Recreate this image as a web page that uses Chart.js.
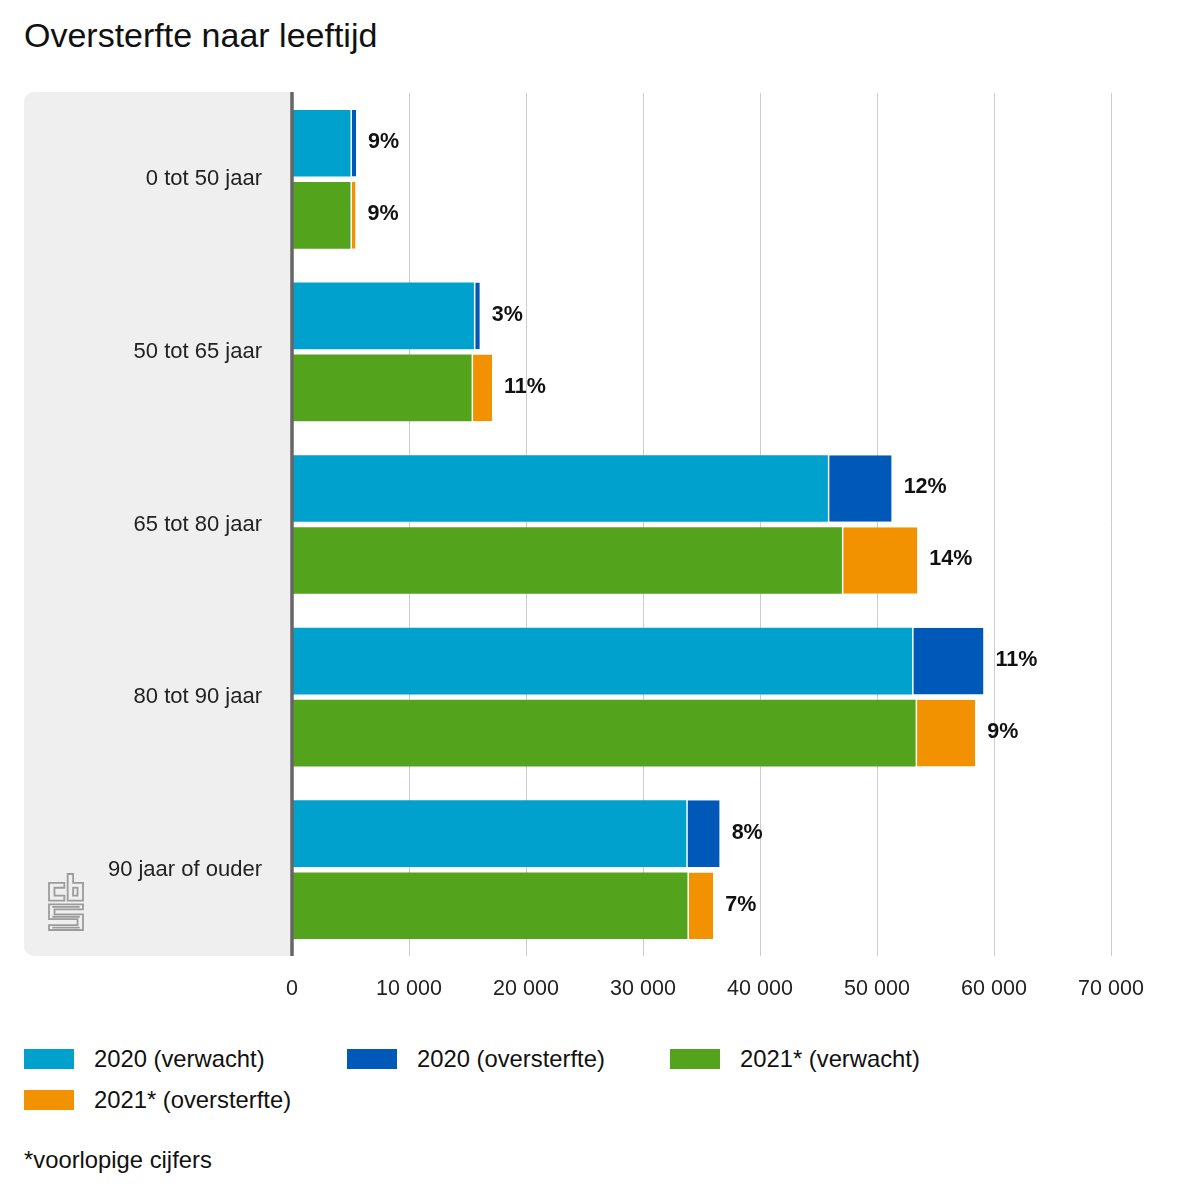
<!DOCTYPE html>
<html>
<head>
<meta charset="utf-8">
<script src="https://cdn.jsdelivr.net/npm/chart.js@4.4.1/dist/chart.umd.min.js"></script>
<style>
  html, body { margin: 0; padding: 0; background: #fff; }
  body { width: 1200px; height: 1200px; position: relative; font-family: "Liberation Sans", Arial, sans-serif; color: #111; }
  #title { position: absolute; left: 24px; top: 14px; font-size: 34px; line-height: 42px; color: #111; white-space: nowrap; }
  #wrap { position: absolute; left: 0; top: 0; width: 1200px; height: 1015px; }
  #legend { position: absolute; left: 24px; top: 1038px; width: 1000px; display: flex; flex-wrap: wrap; }
  .item { width: 323px; height: 41px; display: flex; align-items: center; font-size: 23.8px; color: #111; white-space: nowrap; }
  .sw { width: 50px; height: 20px; margin-right: 20px; flex: none; }
  #note { position: absolute; left: 24px; top: 1146px; font-size: 23.8px; line-height: 28px; color: #111; white-space: nowrap; }
</style>
</head>
<body>
<div id="title">Oversterfte naar leeftijd</div>
<div id="wrap"><canvas id="c" width="1200" height="1015"></canvas></div>
<div id="legend"></div>
<div id="note">*voorlopige cijfers</div>
<script>
// ---- data ----
const categories = ['0 tot 50 jaar', '50 tot 65 jaar', '65 tot 80 jaar', '80 tot 90 jaar', '90 jaar of ouder'];
const expected2020 = [5000, 15550, 45800, 53000, 33700];
const excess2020   = [480, 500, 5450, 6100, 2850];
const expected2021 = [5000, 15350, 47000, 53300, 33800];
const excess2021   = [430, 1750, 6450, 5100, 2200];
const pctLabels2020 = ['9%', '3%', '12%', '11%', '8%'];
const pctLabels2021 = ['9%', '11%', '14%', '9%', '7%'];
const seriesNames = ['2020 (verwacht)', '2020 (oversterfte)', '2021* (verwacht)', '2021* (oversterfte)'];
const seriesColors = ['#00a1cd', '#0058b8', '#53a31d', '#f39200'];
const xTicks = [0, 10000, 20000, 30000, 40000, 50000, 60000, 70000];

const FONT = '"Liberation Sans", Arial, sans-serif';
const fmt = v => String(v).replace(/\B(?=(\d{3})+(?!\d))/g, ' ');

const panelPlugin = {
  id: 'panel',
  beforeDraw(chart) {
    const ctx = chart.ctx, ca = chart.chartArea;
    const x0 = 24, y0 = 92, w = ca.left - 24, h = 956 - 92, r = 10;
    ctx.save();
    ctx.fillStyle = '#efefef';
    ctx.beginPath();
    ctx.moveTo(x0 + w, y0);
    ctx.lineTo(x0 + r, y0);
    ctx.arcTo(x0, y0, x0, y0 + r, r);
    ctx.lineTo(x0, y0 + h - r);
    ctx.arcTo(x0, y0 + h, x0 + r, y0 + h, r);
    ctx.lineTo(x0 + w, y0 + h);
    ctx.closePath();
    ctx.fill();
    // cbs logo (outline)
    ctx.strokeStyle = '#9c9c9c';
    ctx.lineWidth = 1.8;
    const lx = 49, ly = 874, sx = 34 / 31, sy = 56 / 57;
    const X = v => lx + v * sx, Y = v => ly + v * sy;
    const P = pts => { ctx.beginPath(); ctx.moveTo(X(pts[0][0]), Y(pts[0][1])); for (let i = 1; i < pts.length; i++) ctx.lineTo(X(pts[i][0]), Y(pts[i][1])); ctx.closePath(); ctx.stroke(); };
    // c
    P([[0,9],[14,9],[14,14],[5,14],[5,22],[14,22],[14,27],[0,27]]);
    // b
    P([[17,0],[22,0],[22,9],[31,9],[31,27],[17,27]]);
    ctx.strokeRect(X(22), Y(14), 4 * sx, 8 * sy);
    // s
    P([[0,31],[31,31],[31,36],[5,36],[5,41],[31,41],[31,57],[0,57],[0,52],[26,52],[26,46],[0,46]]);
    ctx.beginPath();
    ctx.moveTo(X(3), Y(33.5)); ctx.lineTo(X(28), Y(33.5));
    ctx.moveTo(X(3), Y(43.5)); ctx.lineTo(X(28), Y(43.5));
    ctx.moveTo(X(3), Y(54.5)); ctx.lineTo(X(28), Y(54.5));
    ctx.stroke();
    ctx.restore();
  },
  afterDatasetsDraw(chart) {
    const ctx = chart.ctx, ca = chart.chartArea;
    const x = chart.scales.x.getPixelForValue(0);
    ctx.save();
    ctx.strokeStyle = '#666';
    ctx.lineWidth = 3.5;
    ctx.beginPath();
    ctx.moveTo(x, 92);
    ctx.lineTo(x, 956);
    ctx.stroke();
    // percent labels
    ctx.fillStyle = '#111';
    ctx.font = 'bold 21.5px ' + FONT;
    ctx.textAlign = 'left';
    ctx.textBaseline = 'middle';
    [[1, pctLabels2020], [3, pctLabels2021]].forEach(([di, labels]) => {
      chart.getDatasetMeta(di).data.forEach((el, i) => {
        ctx.fillText(labels[i], el.x + 12, el.y - 1);
      });
    });
    ctx.restore();
  }
};

const datasets = [
  { label: seriesNames[0], data: expected2020, stack: 's2020', backgroundColor: seriesColors[0], borderWidth: 0 },
  { label: seriesNames[1], data: excess2020, stack: 's2020', backgroundColor: seriesColors[1], borderColor: '#ffffff', borderWidth: { left: 1.5, right: 0, top: 0, bottom: 0 }, borderSkipped: false },
  { label: seriesNames[2], data: expected2021, stack: 's2021', backgroundColor: seriesColors[2], borderWidth: 0 },
  { label: seriesNames[3], data: excess2021, stack: 's2021', backgroundColor: seriesColors[3], borderColor: '#ffffff', borderWidth: { left: 1.5, right: 0, top: 0, bottom: 0 }, borderSkipped: false }
];
datasets.forEach(d => { d.categoryPercentage = 0.835; d.barPercentage = 0.925; });

new Chart(document.getElementById('c'), {
  type: 'bar',
  data: { labels: categories, datasets },
  options: {
    indexAxis: 'y',
    responsive: false,
    devicePixelRatio: 1,
    animation: false,
    layout: { padding: { top: 93, right: 89, left: 0, bottom: 0 } },
    plugins: { legend: { display: false }, tooltip: { enabled: false }, title: { display: false } },
    scales: {
      x: {
        type: 'linear', min: 0, max: 70000, stacked: true,
        afterBuildTicks: s => { s.ticks = xTicks.map(v => ({ value: v })); },
        afterFit: s => { s.height = 59; },
        ticks: { callback: v => fmt(v), color: '#222', font: { family: FONT, size: 21.5 }, padding: 20, maxRotation: 0 },
        grid: { color: '#cccccc', lineWidth: 1, drawTicks: false },
        border: { display: false }
      },
      y: {
        type: 'category', stacked: true,
        afterFit: s => { s.width = 292; },
        ticks: { color: '#222', font: { family: FONT, size: 22 }, padding: 30 },
        grid: { display: false, drawTicks: false },
        border: { display: false }
      }
    }
  },
  plugins: [panelPlugin]
});

// legend (HTML, built from the series arrays)
const lg = document.getElementById('legend');
seriesNames.forEach((n, i) => {
  const it = document.createElement('div');
  it.className = 'item';
  const sw = document.createElement('span');
  sw.className = 'sw';
  sw.style.background = seriesColors[i];
  const tx = document.createElement('span');
  tx.textContent = n;
  it.appendChild(sw); it.appendChild(tx);
  lg.appendChild(it);
});
</script>
</body>
</html>
